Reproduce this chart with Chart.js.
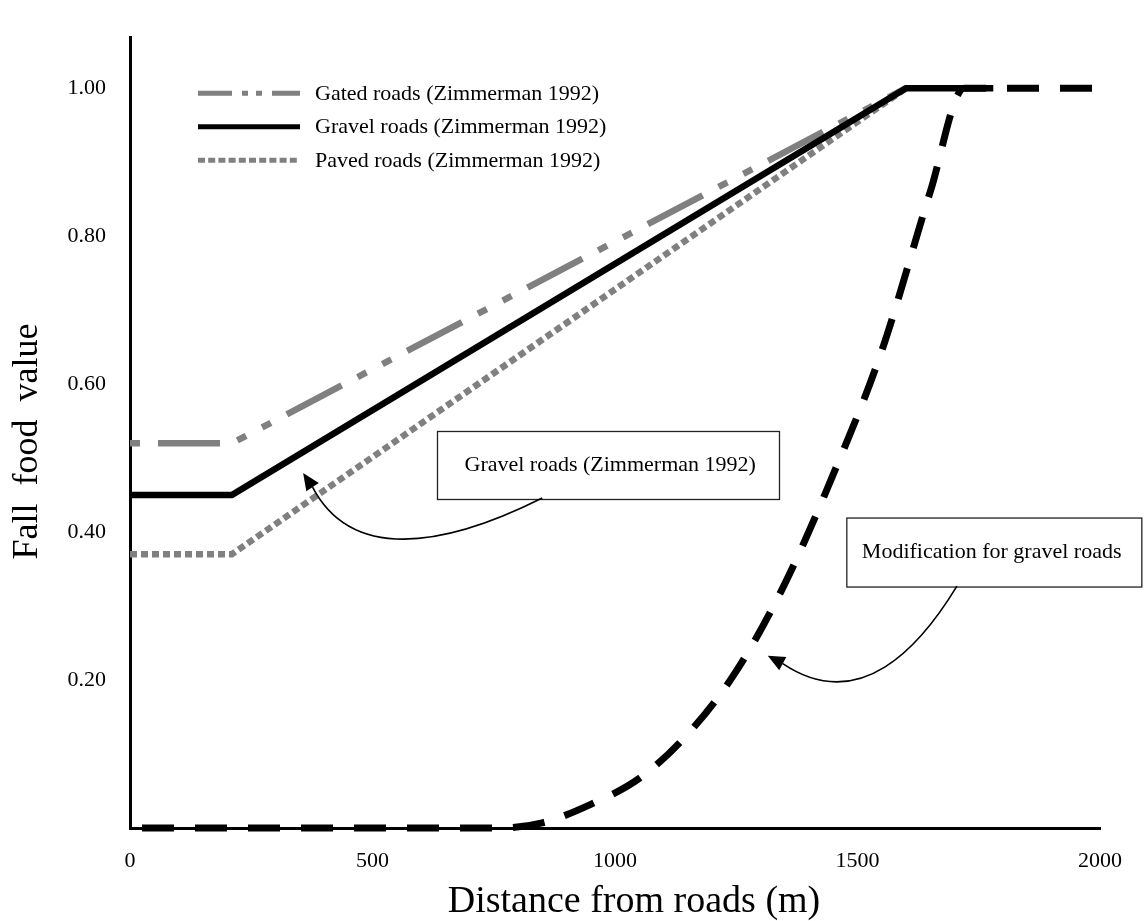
<!DOCTYPE html>
<html>
<head>
<meta charset="utf-8">
<script src="https://cdn.jsdelivr.net/npm/chart.js@4.4.1/dist/chart.umd.min.js"></script>
<style>
  html, body { margin: 0; padding: 0; background: #fff; }
  #wrap { width: 1144px; height: 921px; }
</style>
</head>
<body>
<div id="wrap"><canvas id="myChart" width="1144" height="921"></canvas></div>
<script>
// distance from roads (m) -> fall food value
const gatedX = [0, 210, 1600];
const gatedY = [0.52, 0.52, 1.00];
const gravelX = [0, 210, 1600, 1780];
const gravelY = [0.45, 0.45, 1.00, 1.00];
const pavedX = [0, 210, 1600];
const pavedY = [0.37, 0.37, 1.00];
const modX = [0, 760, 850, 950, 1050, 1150, 1250, 1350, 1450, 1550, 1650, 1720, 2000];
const modY = [0, 0, 0.007, 0.032, 0.067, 0.127, 0.212, 0.33, 0.478, 0.645, 0.86, 1.00, 1.00];

const xTicks = [0, 500, 1000, 1500, 2000];
const yTicks = [0.20, 0.40, 0.60, 0.80, 1.00];

const FONT = '"Liberation Serif", "Times New Roman", serif';
const GREY = '#808080';

function pts(xs, ys) {
    return xs.map((v, i) => ({ x: v, y: ys[i] }));
}

// text boxes with curved arrows (anchors in data units)
const notes = [
    { text: 'Gravel roads (Zimmerman 1992)', x: 634, y: 0.536, w: 342, h: 68, pad: 27,
      arrow: [[850, 0.446], [640, 0.377], [455, 0.362], [357, 0.48]] },
    { text: 'Modification for gravel roads', x: 1478, y: 0.419, w: 295, h: 69, pad: 15,
      arrow: [[1705, 0.327], [1630, 0.246], [1505, 0.152], [1315, 0.233]] }
];

function bez(p, t) {
    const u = 1 - t;
    return {
        x: u*u*u*p[0].x + 3*u*u*t*p[1].x + 3*u*t*t*p[2].x + t*t*t*p[3].x,
        y: u*u*u*p[0].y + 3*u*u*t*p[1].y + 3*u*t*t*p[2].y + t*t*t*p[3].y
    };
}

const extras = {
    id: 'extras',
    afterDatasetsDraw(chart) {
        const { ctx, chartArea } = chart;
        const sx = chart.scales.x, sy = chart.scales.y;
        ctx.save();

        // legend (first three series)
        const legendDash = [[34, 10, 6, 8, 6, 10], [], [7, 3.2]];
        ctx.font = '22px ' + FONT;
        ctx.textBaseline = 'middle';
        for (let i = 0; i < 3; i++) {
            const ds = chart.data.datasets[i];
            const ly = chartArea.top + 56 + i * 33.5;
            const lx = chartArea.left + 68;
            ctx.beginPath();
            ctx.setLineDash(legendDash[i]);
            ctx.lineCap = 'butt';
            ctx.strokeStyle = ds.borderColor;
            ctx.lineWidth = 5;
            ctx.moveTo(lx, ly);
            ctx.lineTo(lx + 102, ly);
            ctx.stroke();
            ctx.setLineDash([]);
            ctx.fillStyle = '#000';
            ctx.textAlign = 'left';
            ctx.fillText(ds.label, lx + 117, ly + 1);
        }

        // annotation boxes and arrows
        notes.forEach(n => {
            const bx = sx.getPixelForValue(n.x), by = sy.getPixelForValue(n.y);
            ctx.fillStyle = '#fff';
            ctx.fillRect(bx, by, n.w, n.h);
            ctx.strokeStyle = '#222';
            ctx.lineWidth = 1.3;
            ctx.strokeRect(bx, by, n.w, n.h);
            ctx.fillStyle = '#000';
            ctx.textAlign = 'left';
            ctx.fillText(n.text, bx + n.pad, by + n.h / 2);

            const p = n.arrow.map(a => ({ x: sx.getPixelForValue(a[0]), y: sy.getPixelForValue(a[1]) }));
            const tip = p[3];
            const prev = bez(p, 0.9);
            const ang = Math.atan2(tip.y - prev.y, tip.x - prev.x);
            const len = 17, half = 7.5;
            const baseX = tip.x - Math.cos(ang) * len, baseY = tip.y - Math.sin(ang) * len;
            ctx.beginPath();
            ctx.moveTo(p[0].x, p[0].y);
            ctx.bezierCurveTo(p[1].x, p[1].y, p[2].x, p[2].y, baseX, baseY);
            ctx.strokeStyle = '#000';
            ctx.lineWidth = 1.6;
            ctx.stroke();
            ctx.beginPath();
            ctx.moveTo(tip.x, tip.y);
            ctx.lineTo(baseX + Math.sin(ang) * half, baseY - Math.cos(ang) * half);
            ctx.lineTo(baseX - Math.sin(ang) * half, baseY + Math.cos(ang) * half);
            ctx.closePath();
            ctx.fillStyle = '#000';
            ctx.fill();
        });
        ctx.restore();
    }
};

const ctx = document.getElementById('myChart').getContext('2d');
const myChart = new Chart(ctx, {
    type: 'line',
    data: {
        datasets: [
            {
                label: 'Gated roads (Zimmerman 1992)',
                data: pts(gatedX, gatedY),
                borderColor: GREY,
                borderWidth: 6.5,
                borderDash: [62, 18, 10, 18, 10, 18],
                borderDashOffset: 108,
                order: 2
            },
            {
                label: 'Gravel roads (Zimmerman 1992)',
                data: pts(gravelX, gravelY),
                borderColor: '#000',
                borderWidth: 6.5,
                order: 1
            },
            {
                label: 'Paved roads (Zimmerman 1992)',
                data: pts(pavedX, pavedY),
                borderColor: GREY,
                borderWidth: 6.5,
                borderDash: [7, 4],
                order: 3
            },
            {
                label: 'Modification for gravel roads',
                data: pts(modX, modY),
                borderColor: '#000',
                borderWidth: 7,
                borderDash: [32, 21],
                borderDashOffset: 41,
                cubicInterpolationMode: 'monotone',
                order: 0
            }
        ]
    },
    options: {
        responsive: false,
        animation: false,
        devicePixelRatio: 1,
        layout: { padding: { top: 10, right: 44, bottom: 0, left: 0 } },
        elements: {
            point: { radius: 0 },
            line: { tension: 0, fill: false, borderCapStyle: 'butt', borderJoinStyle: 'miter' }
        },
        datasets: { line: { clip: false } },
        plugins: {
            legend: { display: false },
            tooltip: { enabled: false }
        },
        scales: {
            x: {
                type: 'linear',
                min: 0,
                max: 2000,
                afterFit: s => { s.height = 93; },
                afterBuildTicks: s => { s.ticks = xTicks.map(v => ({ value: v })); },
                grid: { display: false, drawTicks: false },
                border: { display: true, color: '#000', width: 3 },
                ticks: {
                    padding: 20,
                    color: '#000',
                    maxRotation: 0,
                    font: { family: FONT, size: 22 },
                    callback: v => String(v)
                },
                title: {
                    display: true,
                    text: '    Distance from roads (m)',
                    color: '#000',
                    padding: { top: 0, bottom: 0 },
                    font: { family: FONT, size: 38, lineHeight: 1.0 }
                }
            },
            y: {
                type: 'linear',
                min: 0,
                max: 1.069,
                afterFit: s => { s.width = 130; },
                afterBuildTicks: s => { s.ticks = yTicks.map(v => ({ value: v })); },
                grid: { display: false, drawTicks: false },
                border: { display: true, color: '#000', width: 3 },
                ticks: {
                    padding: 24,
                    color: '#000',
                    font: { family: FONT, size: 22 },
                    callback: v => v.toFixed(2)
                },
                title: {
                    display: true,
                    text: 'Fall  food  value  ',
                    color: '#000',
                    padding: { top: 10, bottom: 0 },
                    font: { family: FONT, size: 36, lineHeight: 1.0 }
                }
            }
        }
    },
    plugins: [extras]
});
</script>
</body>
</html>
